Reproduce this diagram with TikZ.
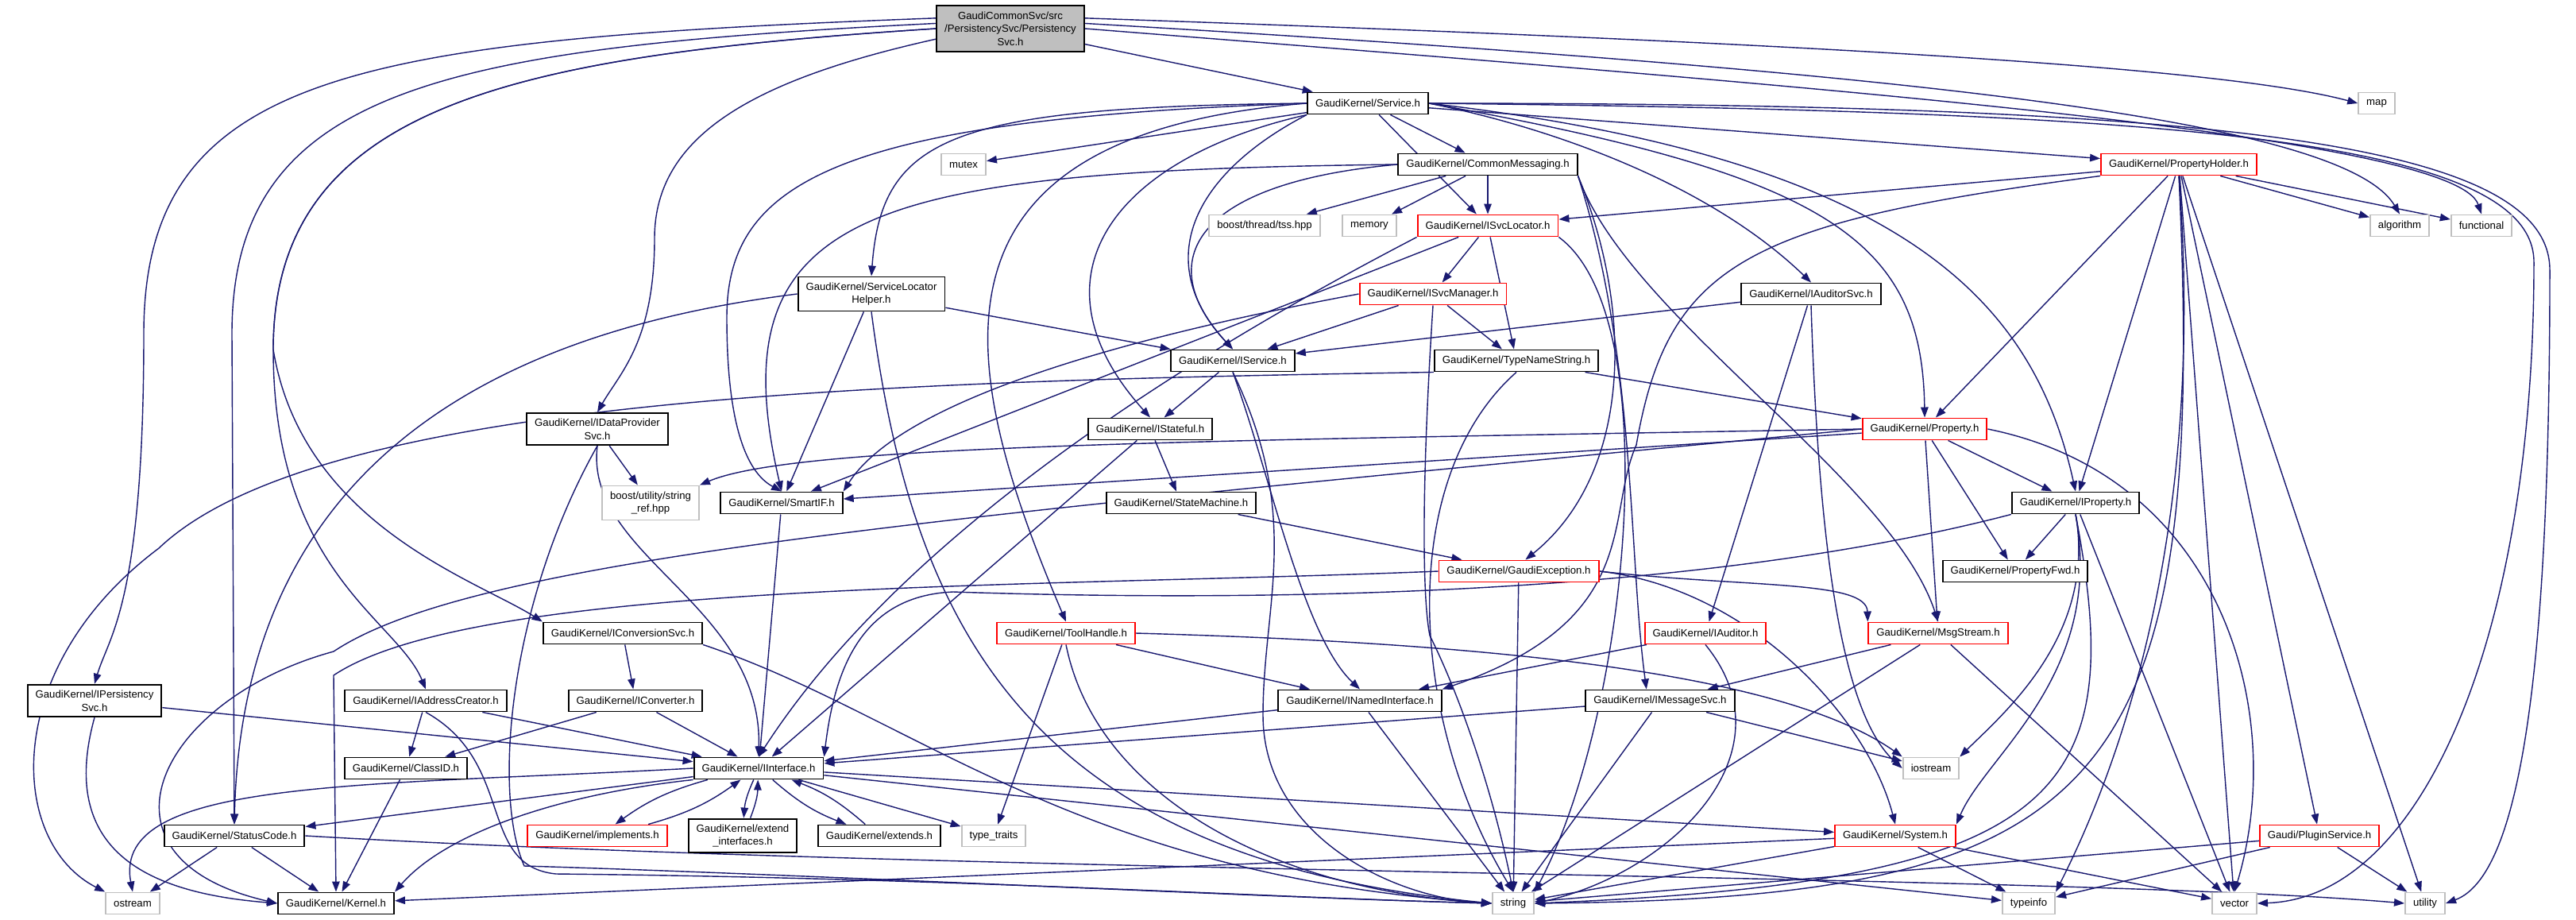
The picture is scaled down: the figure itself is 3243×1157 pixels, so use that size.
\documentclass[tikz,border=0pt]{standalone}
\usepackage{fontspec}
\setmainfont{Liberation Sans}
\usepackage{xcolor}
\usepackage{tikz}
\usetikzlibrary{arrows.meta,backgrounds,positioning}
\definecolor{edgeblue}{RGB}{25,25,112}
\definecolor{sysgray}{RGB}{191,191,191}
\newcommand{\doxyfont}{\fontsize{3.75}{4.75}\selectfont}

\begin{document}
\begin{tikzpicture}[x=0.01cm, y=-0.01cm,
    hdr/.style={rectangle, draw=black, line width=0.55pt, fill=white, font=\doxyfont, align=center, inner xsep=0.1cm, inner ysep=0.07cm, minimum height=0.27cm},
    redhdr/.style={hdr, draw=red},
    syshdr/.style={hdr, draw=sysgray},
    dep/.style={draw=edgeblue, line width=0.4pt, -{Triangle[length=0.13cm, width=0.095cm]}}]
    \useasboundingbox (0,0) rectangle (3243,1157);

    \node[hdr, fill=sysgray] (psvc) at (1272,36) {GaudiCommonSvc/src\\/PersistencySvc/Persistency\\Svc.h};
    \node[hdr] (svc) at (1722,130) {GaudiKernel/Service.h};
    \node[syshdr] (mapn) at (2992,130) {map};
    \node[syshdr] (mutexn) at (1213,207) {mutex};
    \node[hdr] (cmsg) at (1873,207) {GaudiKernel/CommonMessaging.h};
    \node[redhdr] (propholder) at (2743,207) {GaudiKernel/PropertyHolder.h};
    \node[syshdr] (tss) at (1592,284) {boost/thread/tss.hpp};
    \node[syshdr] (memoryn) at (1724,284) {memory};
    \node[redhdr] (isvcloc) at (1873,284) {GaudiKernel/ISvcLocator.h};
    \node[syshdr] (algo) at (3021,284) {algorithm};
    \node[syshdr] (func) at (3124,284) {functional};
    \node[hdr] (slhelp) at (1097,370) {GaudiKernel/ServiceLocator\\Helper.h};
    \node[redhdr] (isvcmgr) at (1804,370) {GaudiKernel/ISvcManager.h};
    \node[hdr] (iauditsvc) at (2280,370) {GaudiKernel/IAuditorSvc.h};
    \node[hdr] (iservice) at (1552,454) {GaudiKernel/IService.h};
    \node[hdr] (typename) at (1909,454) {GaudiKernel/TypeNameString.h};
    \node[hdr] (idataprov) at (752,540) {GaudiKernel/IDataProvider\\Svc.h};
    \node[hdr] (istateful) at (1448,540) {GaudiKernel/IStateful.h};
    \node[redhdr] (property) at (2423,540) {GaudiKernel/Property.h};
    \node[syshdr] (strref) at (819,633) {boost/utility/string\\\_ref.hpp};
    \node[hdr] (smartif) at (984,633) {GaudiKernel/SmartIF.h};
    \node[hdr] (statemach) at (1487,633) {GaudiKernel/StateMachine.h};
    \node[hdr] (iproperty) at (2613,633) {GaudiKernel/IProperty.h};
    \node[redhdr] (gexcept) at (1912,719) {GaudiKernel/GaudiException.h};
    \node[hdr] (propfwd) at (2537,719) {GaudiKernel/PropertyFwd.h};
    \node[hdr] (iconvsvc) at (784,797) {GaudiKernel/IConversionSvc.h};
    \node[redhdr] (toolhandle) at (1342,797) {GaudiKernel/ToolHandle.h};
    \node[redhdr] (iauditor) at (2147,797) {GaudiKernel/IAuditor.h};
    \node[redhdr] (msgstream) at (2440,797) {GaudiKernel/MsgStream.h};
    \node[hdr] (ipersist) at (119,882) {GaudiKernel/IPersistency\\Svc.h};
    \node[hdr] (iaddr) at (536,882) {GaudiKernel/IAddressCreator.h};
    \node[hdr] (iconverter) at (800,882) {GaudiKernel/IConverter.h};
    \node[hdr] (inamed) at (1712,882) {GaudiKernel/INamedInterface.h};
    \node[hdr] (imsgsvc) at (2090,882) {GaudiKernel/IMessageSvc.h};
    \node[hdr] (classid) at (511,967) {GaudiKernel/ClassID.h};
    \node[hdr] (iface) at (955,967) {GaudiKernel/IInterface.h};
    \node[syshdr] (iostreamn) at (2431,967) {iostream};
    \node[hdr] (statuscode) at (295,1052) {GaudiKernel/StatusCode.h};
    \node[redhdr] (implem) at (752,1052) {GaudiKernel/implements.h};
    \node[hdr] (extendif) at (935,1052) {GaudiKernel/extend\\\_interfaces.h};
    \node[hdr] (extendsn) at (1107,1052) {GaudiKernel/extends.h};
    \node[syshdr] (typetraits) at (1251,1052) {type\_traits};
    \node[redhdr] (systemn) at (2386,1052) {GaudiKernel/System.h};
    \node[redhdr] (plugin) at (2920,1052) {Gaudi/PluginService.h};
    \node[syshdr] (ostreamn) at (167,1137) {ostream};
    \node[hdr] (kernel) at (423,1137) {GaudiKernel/Kernel.h};
    \node[syshdr] (stringn) at (1905,1137) {string};
    \node[syshdr] (typeinfon) at (2554,1137) {typeinfo};
    \node[syshdr] (vectorn) at (2813,1137) {vector};
    \node[syshdr] (utilityn) at (3053,1137) {utility};

    \begin{pgfonlayer}{background}
    \fill[white] (0,0) rectangle (3243,1157);
    % PersistencySvc.h
    \draw[dep] (psvc) -- (svc);
    \draw[dep] (psvc.8) .. controls (2300,55) and (2800,85) .. (mapn.west);
    \draw[dep] (psvc.4) .. controls (2400,90) and (2950,150) .. (algo.north);
    \draw[dep] (psvc.0) .. controls (2300,110) and (3090,170) .. (func.north);
    \draw[dep] (psvc.172) .. controls (450,50) and (181,90) .. (181,420) .. controls (181,760) and (137,800) .. (ipersist.north);
    \draw[dep] (psvc.176) .. controls (560,60) and (292,110) .. (292,420) -- (statuscode.north);
    \draw[dep] (psvc.180) .. controls (650,70) and (344,130) .. (344,440) .. controls (344,720) and (500,780) .. (iaddr.north);
    \draw[dep] (psvc.180) .. controls (650,70) and (344,130) .. (344,440) .. controls (380,660) and (600,730) .. (iconvsvc.north west);
    \draw[dep] (psvc.188) .. controls (950,100) and (824,170) .. (824,300) .. controls (824,430) and (780,470) .. (idataprov.north);
    % Service.h
    \draw[dep] (svc) -- (mutexn);
    \draw[dep] (svc) -- (cmsg);
    \draw[dep] (svc) -- (isvcloc);
    \draw[dep] (svc.west) .. controls (1200,135) and (1110,170) .. (slhelp.north);
    \draw[dep] (svc.south west) .. controls (1500,220) and (1450,330) .. (iservice.north);
    \draw[dep] (svc.south west) .. controls (1400,200) and (1290,350) .. (istateful.north);
    \draw[dep] (svc.west) .. controls (1050,150) and (915,230) .. (915,400) .. controls (915,560) and (950,600) .. (smartif.north);
    \draw[dep] (svc.west) .. controls (1150,170) and (1200,450) .. (toolhandle.north);
    \draw[dep] (svc) -- (propholder);
    \draw[dep] (svc.east) .. controls (1950,160) and (2150,230) .. (iauditsvc.north);
    \draw[dep] (svc.east) .. controls (2300,220) and (2420,300) .. (property.north);
    \draw[dep] (svc.east) .. controls (2400,200) and (2560,380) .. (iproperty.north);
    \draw[dep] (svc.east) .. controls (2700,140) and (3190,170) .. (3190,330) .. controls (3190,800) and (3050,1130) .. (vectorn.east);
    \draw[dep] (svc.east) .. controls (2800,130) and (3210,180) .. (3210,340) .. controls (3210,800) and (3180,1100) .. (utilityn.east);
    % CommonMessaging.h
    \draw[dep] (cmsg) -- (tss);
    \draw[dep] (cmsg) -- (memoryn);
    \draw[dep] (cmsg) -- (isvcloc);
    \draw[dep] (cmsg.west) .. controls (1500,230) and (1450,330) .. (iservice.north);
    \draw[dep] (cmsg.west) .. controls (1100,215) and (900,260) .. (smartif.north);
    \draw[dep] (cmsg.south east) .. controls (2050,400) and (2380,600) .. (msgstream.north);
    \draw[dep] (cmsg.south east) .. controls (2060,450) and (2050,700) .. (imsgsvc.140);
    \draw[dep] (cmsg.south east) .. controls (2060,400) and (2050,600) .. (gexcept.60);
    % ISvcLocator.h, ISvcManager.h, ServiceLocatorHelper.h
    \draw[dep] (isvcloc) -- (isvcmgr);
    \draw[dep] (isvcloc) -- (typename);
    \draw[dep] (isvcloc) -- (smartif);
    \draw[dep] (isvcloc.south west) .. controls (1550,420) and (1150,650) .. (iface.north);
    \draw[dep] (isvcloc.south east) .. controls (2100,400) and (2050,900) .. (stringn.north east);
    \draw[dep] (isvcmgr) -- (iservice);
    \draw[dep] (isvcmgr) -- (typename);
    \draw[dep] (isvcmgr.west) .. controls (1550,400) and (1150,480) .. (smartif.north east);
    \draw[dep] (isvcmgr.south) .. controls (1790,600) and (1790,750) .. (1800,800) .. controls (1840,880) and (1880,1000) .. (stringn.north);
    \draw[dep] (slhelp) -- (iservice);
    \draw[dep] (slhelp) -- (smartif);
    \draw[dep] (slhelp.west) .. controls (600,420) and (305,600) .. (statuscode.north);
    \draw[dep] (slhelp.south) .. controls (1150,800) and (1300,1080) .. (stringn.west);
    % IService.h, IStateful.h, TypeNameString.h
    \draw[dep] (iservice) -- (istateful);
    \draw[dep] (iservice.south) .. controls (1600,600) and (1640,800) .. (inamed.north);
    \draw[dep] (iservice.south) .. controls (1640,650) and (1590,760) .. (1590,900) .. controls (1590,1050) and (1750,1130) .. (stringn.west);
    \draw[dep] (istateful) -- (statemach);
    \draw[dep] (istateful) -- (iface);
    \draw[dep] (statemach) -- (gexcept);
    \draw[dep] (typename) -- (property);
    \draw[dep] (typename.south) .. controls (1760,600) and (1770,900) .. (stringn.north);
    \draw[dep] (typename.south west) .. controls (1100,480) and (400,500) .. (200,690) .. controls (0,840) and (10,1060) .. (ostreamn.north west);
    % IDataProviderSvc.h
    \draw[dep] (idataprov) -- (strref);
    \draw[dep] (idataprov.south) .. controls (735,700) and (960,760) .. (iface.north);
    \draw[dep] (idataprov.south) .. controls (640,760) and (620,1000) .. (660,1090) .. controls (1000,1100) and (1600,1130) .. (stringn.west);
    % Property.h, IProperty.h
    \draw[dep] (property) -- (iproperty);
    \draw[dep] (property) -- (propfwd);
    \draw[dep] (property) -- (smartif);
    \draw[dep] (property.west) .. controls (1500,555) and (1000,560) .. (strref.north east);
    \draw[dep] (property.west) .. controls (1200,650) and (600,700) .. (420,820) .. controls (200,880) and (100,1080) .. (kernel.west);
    \draw[dep] (property) -- (msgstream);
    \draw[dep] (property.east) .. controls (2800,600) and (2880,900) .. (vectorn.north);
    \draw[dep] (iproperty) -- (propfwd);
    \draw[dep] (iproperty.south west) .. controls (2100,760) and (1500,755) .. (1200,745) .. controls (1080,750) and (1050,850) .. (iface.north east);
    \draw[dep] (iproperty.south) .. controls (2640,800) and (2520,900) .. (iostreamn.north east);
    \draw[dep] (iproperty.south) .. controls (2650,850) and (2500,950) .. (systemn.north east);
    \draw[dep] (iproperty) -- (vectorn);
    \draw[dep] (iproperty.south) .. controls (2680,1000) and (2600,1110) .. (stringn.east);
    % PropertyHolder.h
    \draw[dep] (propholder) -- (isvcloc);
    \draw[dep] (propholder) -- (property);
    \draw[dep] (propholder) -- (iproperty);
    \draw[dep] (propholder) -- (algo);
    \draw[dep] (propholder) -- (func);
    \draw[dep] (propholder.south west) .. controls (2200,280) and (2100,330) .. (2060,560) .. controls (2020,650) and (2070,780) .. (inamed.north east);
    \draw[dep] (propholder) -- (plugin);
    \draw[dep] (propholder) -- (vectorn);
    \draw[dep] (propholder) -- (utilityn);
    \draw[dep] (propholder.south) .. controls (2780,700) and (2650,1000) .. (typeinfon.north east);
    \draw[dep] (propholder.south) .. controls (2780,1000) and (2650,1130) .. (stringn.east);
    % IAuditorSvc.h, IAuditor.h, ToolHandle.h
    \draw[dep] (iauditsvc) -- (iservice);
    \draw[dep] (iauditsvc) -- (iauditor);
    \draw[dep] (iauditsvc.south) .. controls (2290,700) and (2320,900) .. (iostreamn.west);
    \draw[dep] (iauditor) -- (inamed);
    \draw[dep] (iauditor.south) .. controls (2260,950) and (2100,1100) .. (stringn.east);
    \draw[dep] (toolhandle) -- (inamed);
    \draw[dep] (toolhandle) -- (typetraits);
    \draw[dep] (toolhandle.south) .. controls (1380,1000) and (1600,1120) .. (stringn.west);
    \draw[dep] (toolhandle.east) .. controls (1900,810) and (2250,850) .. (iostreamn.north west);
    % INamedInterface.h, IMessageSvc.h, MsgStream.h
    \draw[dep] (inamed) -- (iface);
    \draw[dep] (inamed) -- (stringn);
    \draw[dep] (imsgsvc) -- (iface);
    \draw[dep] (imsgsvc) -- (stringn);
    \draw[dep] (imsgsvc) -- (iostreamn);
    \draw[dep] (msgstream) -- (imsgsvc);
    \draw[dep] (msgstream) -- (stringn);
    \draw[dep] (msgstream) -- (vectorn);
    % GaudiException.h, System.h, PluginService.h
    \draw[dep] (gexcept.west) .. controls (1300,740) and (600,730) .. (420,850) -- (kernel.north);
    \draw[dep] (gexcept.east) .. controls (2200,740) and (2350,900) .. (systemn.north);
    \draw[dep] (gexcept) -- (stringn);
    \draw[dep] (gexcept.east) .. controls (2200,740) and (2350,730) .. (msgstream.north west);
    \draw[dep] (systemn) -- (kernel);
    \draw[dep] (systemn) -- (stringn);
    \draw[dep] (systemn) -- (typeinfon);
    \draw[dep] (systemn) -- (vectorn);
    \draw[dep] (plugin) -- (stringn);
    \draw[dep] (plugin) -- (typeinfon);
    \draw[dep] (plugin) -- (utilityn);
    % StatusCode.h, IInterface.h
    \draw[dep] (statuscode) -- (ostreamn);
    \draw[dep] (statuscode) -- (kernel);
    \draw[dep] (statuscode.east) .. controls (1200,1100) and (2600,1100) .. (utilityn.west);
    \draw[dep] (iface.west) .. controls (450,990) and (140,980) .. (ostreamn.north);
    \draw[dep] (iface) -- (statuscode);
    \draw[dep] (iface.south west) .. controls (700,1000) and (560,1050) .. (kernel.north east);
    \draw[dep] (iface) to[bend right=10] (implem);
    \draw[dep] (implem) to[bend right=10] (iface);
    \draw[dep] (iface) to[bend right=10] (extendif);
    \draw[dep] (extendif) to[bend right=10] (iface);
    \draw[dep] (iface) to[bend right=10] (extendsn);
    \draw[dep] (extendsn) to[bend right=10] (iface);
    \draw[dep] (iface) -- (typetraits);
    \draw[dep] (iface) -- (systemn);
    \draw[dep] (iface) -- (typeinfon);
    % the rest
    \draw[dep] (smartif) -- (iface);
    \draw[dep] (classid) -- (kernel);
    \draw[dep] (iconverter) -- (iface);
    \draw[dep] (iconverter) -- (classid);
    \draw[dep] (iconvsvc) -- (iconverter);
    \draw[dep] (iconvsvc.south east) .. controls (1150,900) and (1350,1100) .. (stringn.west);
    \draw[dep] (iaddr) -- (classid);
    \draw[dep] (iaddr) -- (iface);
    \draw[dep] (iaddr.south) .. controls (650,960) and (600,1090) .. (700,1100) .. controls (1200,1105) and (1600,1130) .. (stringn.west);
    \draw[dep] (ipersist) -- (iface);
    \draw[dep] (ipersist.south) .. controls (70,1080) and (200,1125) .. (kernel.west);
    \end{pgfonlayer}
\end{tikzpicture}
\end{document}
